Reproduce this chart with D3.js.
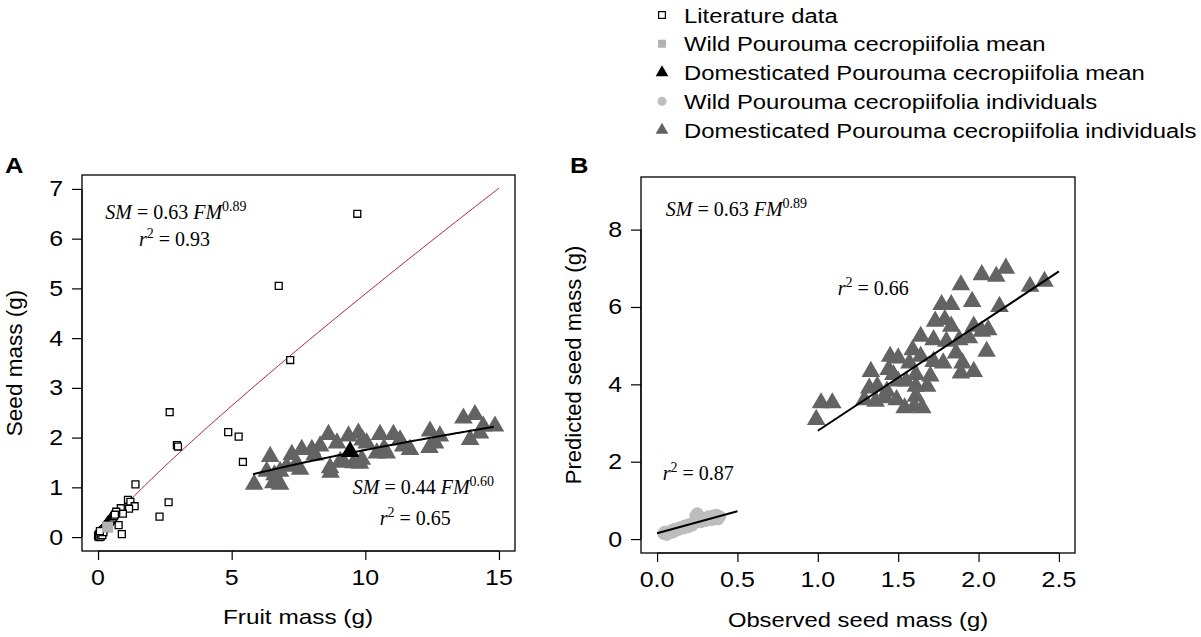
<!DOCTYPE html>
<html>
<head>
<meta charset="utf-8">
<script src="https://cdn.jsdelivr.net/npm/d3@7"></script>
<style>
  body { margin: 0; background: #fff; }
  svg { display: block; }
</style>
</head>
<body>
<script>
// ---- data ----

// Panel A: literature data, [fruit mass (g), seed mass (g)]
const literature = [
  [9.70, 6.50], [6.76, 5.05], [7.19, 3.56], [2.68, 2.51], [2.95, 1.85], [2.99, 1.82],
  [4.87, 2.11], [5.26, 2.02], [5.42, 1.51], [1.40, 1.06], [2.64, 0.70], [2.30, 0.41],
  [1.12, 0.75], [1.21, 0.71], [1.37, 0.62], [1.16, 0.57], [0.85, 0.58], [0.93, 0.47],
  [0.68, 0.51], [0.77, 0.24], [0.89, 0.06],
  [0.00, 0.03], [0.03, 0.05], [0.06, 0.07], [0.09, 0.09], [0.11, 0.10], [0.14, 0.12],
  [0.18, 0.14], [0.22, 0.16], [0.27, 0.18], [0.30, 0.21], [0.33, 0.23], [0.37, 0.26],
  [0.41, 0.29], [0.45, 0.31], [0.48, 0.34], [0.52, 0.36], [0.56, 0.39], [0.60, 0.42],
  [0.63, 0.45], [0.02, 0.01], [0.04, 0.02], [0.08, 0.03], [0.12, 0.05], [0.15, 0.08],
  [0.05, 0.00], [0.10, 0.01], [0.16, 0.04], [0.20, 0.10], [0.07, 0.12]
];

// Panel A: domesticated individuals, [fruit mass (g), seed mass (g)]
const domesticatedA = [
  [5.84, 1.06], [6.44, 1.62], [6.56, 1.09], [6.81, 1.06], [6.31, 1.32], [6.81, 1.32],
  [7.25, 1.66], [7.62, 1.76], [8.00, 1.76], [8.31, 1.83], [8.62, 2.06], [8.94, 1.89],
  [9.37, 2.03], [9.74, 2.09], [10.05, 1.89], [10.55, 2.06], [11.05, 2.06], [11.42, 1.83],
  [11.67, 1.76], [7.06, 1.42], [7.56, 1.36], [8.68, 1.39], [9.06, 1.52], [9.56, 1.49],
  [9.87, 1.56], [10.43, 1.69], [10.80, 1.69], [12.42, 2.13], [12.61, 1.89], [12.79, 2.03],
  [13.67, 2.39], [14.10, 2.46], [13.92, 1.96], [14.41, 2.23], [14.85, 2.23], [14.29, 2.09],
  [6.60, 1.25], [6.70, 1.12], [7.40, 1.45], [8.70, 1.30], [9.20, 1.50], [9.80, 1.48],
  [12.40, 1.80], [11.30, 1.95], [8.10, 1.65], [9.90, 1.95], [10.70, 1.78]
];

const wildMean = [0.36, 0.20];
const domMean = [9.43, 1.72];

// Panel B: [observed seed mass (g), predicted seed mass (g)]
const wildB = [
  [0.04, 0.14], [0.05, 0.19], [0.06, 0.12], [0.07, 0.17], [0.09, 0.22], [0.10, 0.18],
  [0.11, 0.26], [0.13, 0.24], [0.14, 0.30], [0.16, 0.28], [0.17, 0.34], [0.19, 0.31],
  [0.20, 0.38], [0.22, 0.36], [0.23, 0.42], [0.24, 0.60], [0.25, 0.66], [0.26, 0.50],
  [0.27, 0.44], [0.28, 0.55], [0.30, 0.47], [0.31, 0.52], [0.32, 0.58], [0.34, 0.50],
  [0.35, 0.60], [0.36, 0.55], [0.37, 0.62], [0.38, 0.52], [0.39, 0.58]
];

const domesticatedB = [
  [2.17, 7.00], [2.02, 6.83], [2.11, 6.79], [1.89, 6.57], [2.32, 6.53], [2.41, 6.66],
  [1.96, 6.14], [1.77, 6.06], [1.83, 6.06], [2.13, 6.01], [1.73, 5.63], [1.79, 5.67],
  [1.83, 5.50], [1.97, 5.50], [2.02, 5.37], [2.06, 5.41], [1.64, 5.24], [1.72, 5.15],
  [1.80, 5.11], [1.88, 5.15], [1.94, 5.20], [2.05, 4.85], [1.45, 4.72], [1.50, 4.68],
  [1.59, 4.89], [1.57, 4.55], [1.64, 4.72], [1.72, 4.59], [1.78, 4.55], [1.86, 4.81],
  [1.90, 4.55], [1.89, 4.29], [1.97, 4.33], [1.33, 4.33], [1.44, 4.38], [1.47, 4.25],
  [1.61, 4.25], [1.70, 4.21], [1.68, 3.95], [1.32, 3.90], [1.37, 3.95], [1.43, 3.82],
  [1.29, 3.60], [1.36, 3.56], [1.42, 3.65], [1.49, 3.60], [1.61, 3.69], [1.54, 3.39],
  [1.60, 3.43], [1.65, 3.39], [1.61, 3.95], [1.02, 3.52], [1.09, 3.52], [0.99, 3.09],
  [1.50, 4.08], [1.55, 4.08]
];

// fitted relations shown on the figure
const litFit = { a: 0.63, b: 0.89, from: 0, to: 15 };     // SM = 0.63 FM^0.89
const domFit = { a: 0.44, b: 0.60, from: 5.8, to: 14.8 }; // SM = 0.44 FM^0.60
const wildLineB = [[0.0, 0.15], [0.5, 0.72]];
const domLineB = [[1.0, 2.80], [2.5, 6.92]];

const xTicksA = [0, 5, 10, 15];
const yTicksA = [0, 1, 2, 3, 4, 5, 6, 7];
const xTicksB = [0, 0.5, 1, 1.5, 2, 2.5];
const yTicksB = [0, 2, 4, 6, 8];

const legendLabels = [
  "Literature data",
  "Wild Pourouma cecropiifolia mean",
  "Domesticated Pourouma cecropiifolia mean",
  "Wild Pourouma cecropiifolia individuals",
  "Domesticated Pourouma cecropiifolia individuals"
];

// ---- drawing ----
const width = 1201, height = 637;
const TX = 1.16; // the original figure's text is stretched horizontally
const sans = "'Liberation Sans', Arial, sans-serif";
const serif = "'Liberation Serif', 'Times New Roman', serif";
const greyLight = "#bdbdbd", greyMid = "#b2b2b2", greyDark = "#636363";

const svg = d3.select("body").append("svg")
  .attr("width", width)
  .attr("height", height);

// R-style padded domain (4% each side)
function pad(lo, hi) {
  const s = (hi - lo) * 0.04;
  return [lo - s, hi + s];
}

function stretched(g, x, y, str, size, anchor = "start", weight = "normal", sx = TX) {
  return g.append("text")
    .attr("transform", `translate(${x},${y}) scale(${sx},1)`)
    .attr("font-family", sans)
    .attr("font-size", size)
    .attr("font-weight", weight)
    .attr("text-anchor", anchor)
    .text(str);
}

const tri = d3.symbol().type(d3.symbolTriangle);
const sq = d3.symbol().type(d3.symbolSquare);

function panel(box, xDom, yDom, xTicks, yTicks, xFmt) {
  const x = d3.scaleLinear().domain(pad(...xDom)).range([box.left, box.right]);
  const y = d3.scaleLinear().domain(pad(...yDom)).range([box.bottom, box.top]);
  const g = svg.append("g");

  g.append("rect")
    .attr("x", box.left).attr("y", box.top)
    .attr("width", box.right - box.left).attr("height", box.bottom - box.top)
    .attr("fill", "none").attr("stroke", "#000").attr("stroke-width", 1.3);

  g.append("g")
    .attr("transform", `translate(0,${box.bottom})`)
    .call(d3.axisBottom(x).tickValues(xTicks).tickSize(9).tickFormat(() => ""))
    .call(a => a.select(".domain").attr("d", `M${x(xTicks[0])},0H${x(xTicks[xTicks.length - 1])}`))
    .call(a => a.selectAll("line, path").attr("stroke-width", 1.2));

  g.append("g")
    .attr("transform", `translate(${box.left},0)`)
    .call(d3.axisLeft(y).tickValues(yTicks).tickSize(10).tickFormat(() => ""))
    .call(a => a.select(".domain").attr("d", `M0,${y(yTicks[0])}V${y(yTicks[yTicks.length - 1])}`))
    .call(a => a.selectAll("line, path").attr("stroke-width", 1.2));

  xTicks.forEach(t => stretched(g, x(t), box.bottom + 34, xFmt(t), 21.5, "middle"));
  yTicks.forEach(t => stretched(g, box.left - 19, y(t) + 7.5, String(t), 21.5, "end"));

  return { g, x, y };
}

const EQ = 20, EQX = 1.0;

function equation(g, x, y, coef, expo) {
  const t = g.append("text")
    .attr("transform", `translate(${x},${y}) scale(${EQX},1)`)
    .attr("font-family", serif)
    .attr("font-size", EQ);
  t.append("tspan").attr("font-style", "italic").text("SM");
  t.append("tspan").text(` = ${coef} `);
  t.append("tspan").attr("font-style", "italic").text("FM");
  t.append("tspan").attr("font-size", 14).attr("dy", -8).text(expo);
}

function rsq(g, x, y, val) {
  const t = g.append("text")
    .attr("transform", `translate(${x},${y}) scale(${EQX},1)`)
    .attr("font-family", serif)
    .attr("font-size", EQ);
  t.append("tspan").attr("font-style", "italic").text("r");
  t.append("tspan").attr("font-size", 14).attr("dy", -8).text("2");
  t.append("tspan").attr("dy", 8).text(` = ${val}`);
}

// ---------------- Panel A ----------------
const A = panel({ left: 82, right: 515, top: 175, bottom: 551 },
  [0, 15], [0, 7], xTicksA, yTicksA, d => String(d));

const powerCurve = f => d3.range(f.from, f.to + 1e-9, (f.to - f.from) / 120)
  .map(v => [v, f.a * Math.pow(v, f.b)]);
const lineA = d3.line().x(d => A.x(d[0])).y(d => A.y(d[1]));

A.g.append("path")
  .attr("d", lineA(powerCurve(litFit)))
  .attr("fill", "none").attr("stroke", "#b0204a").attr("stroke-width", 1);

A.g.append("g").selectAll("path")
  .data(literature)
  .join("path")
  .attr("transform", d => `translate(${A.x(d[0])},${A.y(d[1])})`)
  .attr("d", sq.size(48)())
  .attr("fill", "#fff").attr("stroke", "#000").attr("stroke-width", 1.3);

A.g.append("path")
  .attr("transform", `translate(${A.x(wildMean[0])},${A.y(wildMean[1])})`)
  .attr("d", sq.size(120)())
  .attr("fill", greyMid);

A.g.append("g").selectAll("path")
  .data(domesticatedA)
  .join("path")
  .attr("transform", d => `translate(${A.x(d[0])},${A.y(d[1])})`)
  .attr("d", tri.size(150)())
  .attr("fill", greyDark);

A.g.append("path")
  .attr("d", lineA(powerCurve(domFit)))
  .attr("fill", "none").attr("stroke", "#000").attr("stroke-width", 2);

A.g.append("path")
  .attr("transform", `translate(${A.x(domMean[0])},${A.y(domMean[1])})`)
  .attr("d", tri.size(150)())
  .attr("fill", "#000");

equation(A.g, A.x(0.27), A.y(6.40), "0.63", "0.89");
rsq(A.g, A.x(1.53), A.y(5.85), "0.93");
equation(A.g, A.x(9.53), A.y(0.87), "0.44", "0.60");
rsq(A.g, A.x(10.54), A.y(0.25), "0.65");

stretched(svg, 5, 173, "A", 22, "start", "bold");
stretched(svg, 298, 624, "Fruit mass (g)", 21, "middle");
svg.append("text")
  .attr("transform", "translate(22,363) rotate(-90)")
  .attr("font-family", sans).attr("font-size", 22.5)
  .attr("text-anchor", "middle")
  .text("Seed mass (g)");

// ---------------- Panel B ----------------
const B = panel({ left: 641, right: 1075, top: 177, bottom: 553 },
  [0, 2.5], [0, 9], xTicksB, yTicksB, d3.format(".1f"));
const lineB = d3.line().x(d => B.x(d[0])).y(d => B.y(d[1]));

B.g.append("g").selectAll("circle")
  .data(wildB)
  .join("circle")
  .attr("cx", d => B.x(d[0])).attr("cy", d => B.y(d[1]))
  .attr("r", 6.3)
  .attr("fill", greyLight);

B.g.append("g").selectAll("path")
  .data(domesticatedB)
  .join("path")
  .attr("transform", d => `translate(${B.x(d[0])},${B.y(d[1])})`)
  .attr("d", tri.size(150)())
  .attr("fill", greyDark);

[wildLineB, domLineB].forEach(l => B.g.append("path")
  .attr("d", lineB(l))
  .attr("fill", "none").attr("stroke", "#000").attr("stroke-width", 2));

equation(B.g, B.x(0.054), B.y(8.34), "0.63", "0.89");
rsq(B.g, B.x(1.124), B.y(6.30), "0.66");
rsq(B.g, B.x(0.035), B.y(1.53), "0.87");

stretched(svg, 570, 173, "B", 22, "start", "bold");
stretched(svg, 858, 627, "Observed seed mass (g)", 20.5, "middle");
svg.append("text")
  .attr("transform", "translate(581,365) rotate(-90)")
  .attr("font-family", sans).attr("font-size", 22)
  .attr("text-anchor", "middle")
  .text("Predicted seed mass (g)");

// ---------------- Legend ----------------
const legend = svg.append("g");
const legendY = d3.scalePoint().domain(legendLabels).range([15, 130]);
const lx = 662;
const sym = [
  g => g.append("path").attr("d", sq.size(46)()).attr("fill", "#fff").attr("stroke", "#000").attr("stroke-width", 1.2),
  g => g.append("path").attr("d", sq.size(64)()).attr("fill", greyMid),
  g => g.append("path").attr("d", tri.size(70)()).attr("fill", "#000"),
  g => g.append("circle").attr("r", 4.5).attr("fill", greyLight),
  g => g.append("path").attr("d", tri.size(70)()).attr("fill", greyDark)
];
legendLabels.forEach((lab, i) => {
  const yy = legendY(lab);
  sym[i](legend.append("g").attr("transform", `translate(${lx},${yy})`));
  stretched(legend, 684, yy + 7.5, lab, 21, "start", "normal", 1.135);
});
</script>
</body>
</html>
